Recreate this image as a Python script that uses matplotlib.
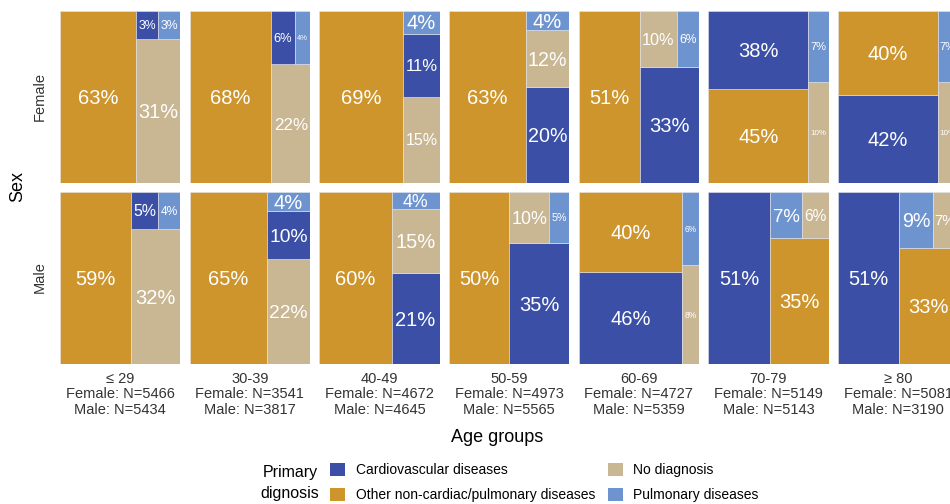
import numpy as np
import matplotlib
matplotlib.use('Agg')
import matplotlib.pyplot as plt
from matplotlib.patches import Patch
from matplotlib.transforms import offset_copy

plt.rcParams['font.family'] = ['Liberation Sans', 'DejaVu Sans']

#-----------------------------------------------------------------------------------------------------------
# Data

age_groups = ['≤ 29', '30-39', '40-49', '50-59', '60-69', '70-79', '≥ 80']
n_female = [5466, 3541, 4672, 4973, 4727, 5149, 5081]
n_male = [5434, 3817, 4645, 5565, 5359, 5143, 3190]

diagnoses = ['Cardiovascular diseases', 'Other non-cardiac/pulmonary diseases',
             'No diagnosis', 'Pulmonary diseases']
colors = ['#3A4FA5', '#CD952C', '#C9B693', '#6E94D0']

# share of each diagnosis in %, same order as diagnoses
female_pct = [[3, 63, 31, 3],
              [6, 68, 22, 4],
              [11, 69, 15, 4],
              [20, 63, 12, 4],
              [33, 51, 10, 6],
              [38, 45, 10, 7],
              [42, 40, 10, 7]]
male_pct = [[5, 59, 32, 4],
            [10, 65, 22, 4],
            [21, 60, 15, 4],
            [35, 50, 10, 5],
            [46, 40, 8, 6],
            [51, 35, 6, 7],
            [51, 33, 7, 9]]

#-----------------------------------------------------------------------------------------------------------
# Squarified treemap layout in the unit square

def worst(row, side):
    t = sum(row) / side
    return max(max(t / (a / t), (a / t) / t) for a in row)

def squarify(areas, x, y, w, h):
    rects = []
    i = 0
    while i < len(areas):
        side = min(w, h)
        row = [areas[i]]
        j = i + 1
        while j < len(areas) and worst(row + [areas[j]], side) <= worst(row, side):
            row.append(areas[j])
            j += 1
        t = sum(row) / side
        if w < h:
            xx = x
            for a in row:
                rects.append((xx, y, a / t, t))
                xx += a / t
            y += t
            h -= t
        else:
            yy = y
            for a in row:
                rects.append((x, yy, t, a / t))
                yy += a / t
            x += t
            w -= t
        i = j
    return rects

#-----------------------------------------------------------------------------------------------------------
# Figure

W, H = 950, 504
fig = plt.figure(figsize=(W / 100, H / 100), dpi=100)
renderer = fig.canvas.get_renderer()

x_left = 60
pitch = 129.67
pw = 120.3
row_tops = [10.7, 191.7]
ph = 172

base_size = 14.5
pad = 2.2

for r, data in enumerate([female_pct, male_pct]):
    for c in range(len(age_groups)):
        x0 = x_left + c * pitch
        ax = fig.add_axes([x0 / W, 1 - (row_tops[r] + ph) / H, pw / W, ph / H])
        ax.set_xlim(0, 1)
        ax.set_ylim(0, 1)
        for s in ax.spines.values():
            s.set_visible(False)
        ax.set_yticks([])

        vals = data[c]
        order = sorted(range(len(vals)), key=lambda i: -vals[i])
        total = sum(vals)
        areas = [vals[i] / total for i in order]
        rects = squarify(areas, 0.0, 0.0, 1.0, 1.0)

        for k, (rx, ry, rw, rh) in zip(order, rects):
            ax.bar(rx, rh, width=rw, bottom=ry, align='edge', color=colors[k],
                   edgecolor='#e4e4ea', linewidth=0.4)
            label = f'{vals[k]}%'
            # shrink the label until it fits inside its tile
            tmp = ax.text(0, 0, label, fontsize=base_size)
            bw = tmp.get_window_extent(renderer).width
            tmp.remove()
            cap_px = 0.72 * base_size * 100 / 72
            size = base_size * min(1.0, (rw * pw - 2 * pad) / bw,
                                   (rh * ph - 2 * pad) / cap_px)
            tr = offset_copy(ax.transData, fig=fig, x=0, y=-0.36 * size, units='points')
            ax.text(rx + rw / 2, ry + rh / 2, label, color='white', ha='center',
                    va='baseline', fontsize=size, transform=tr)

        if r == 1:
            ax.set_xticks([0.5])
            ax.set_xticklabels([f'{age_groups[c]}\nFemale: N={n_female[c]}\nMale: N={n_male[c]}'],
                               fontsize=10.5, color='#333333', linespacing=1.12)
            ax.tick_params(axis='x', length=0, pad=6)
        else:
            ax.set_xticks([])

# strip labels and axis titles
fig.text(40 / W, 1 - 96.7 / H, 'Female', rotation=90, ha='center', va='center',
         fontsize=10.5, color='#333333')
fig.text(40 / W, 1 - 277.5 / H, 'Male', rotation=90, ha='center', va='center',
         fontsize=10.5, color='#333333')
fig.text(18 / W, 1 - 187 / H, 'Sex', rotation=90, ha='center', va='center',
         fontsize=13, color='black')
fig.text(497 / W, 1 - 437 / H, 'Age groups', ha='center', va='center',
         fontsize=13, color='black')

# legend
handles = [Patch(facecolor=col) for col in colors]
fig.legend(handles, diagnoses, ncol=2, loc='upper left',
           bbox_to_anchor=(330 / W, 1 - 463 / H), frameon=False, fontsize=10,
           handlelength=1.1, handleheight=1.1, handletextpad=0.75,
           columnspacing=0.9, labelspacing=0.75, borderpad=0, borderaxespad=0)
fig.text(290 / W, 1 - 483 / H, 'Primary\ndignosis', ha='center', va='center',
         fontsize=11.5, color='black', linespacing=1.45)

plt.savefig('out.png', dpi=100)
